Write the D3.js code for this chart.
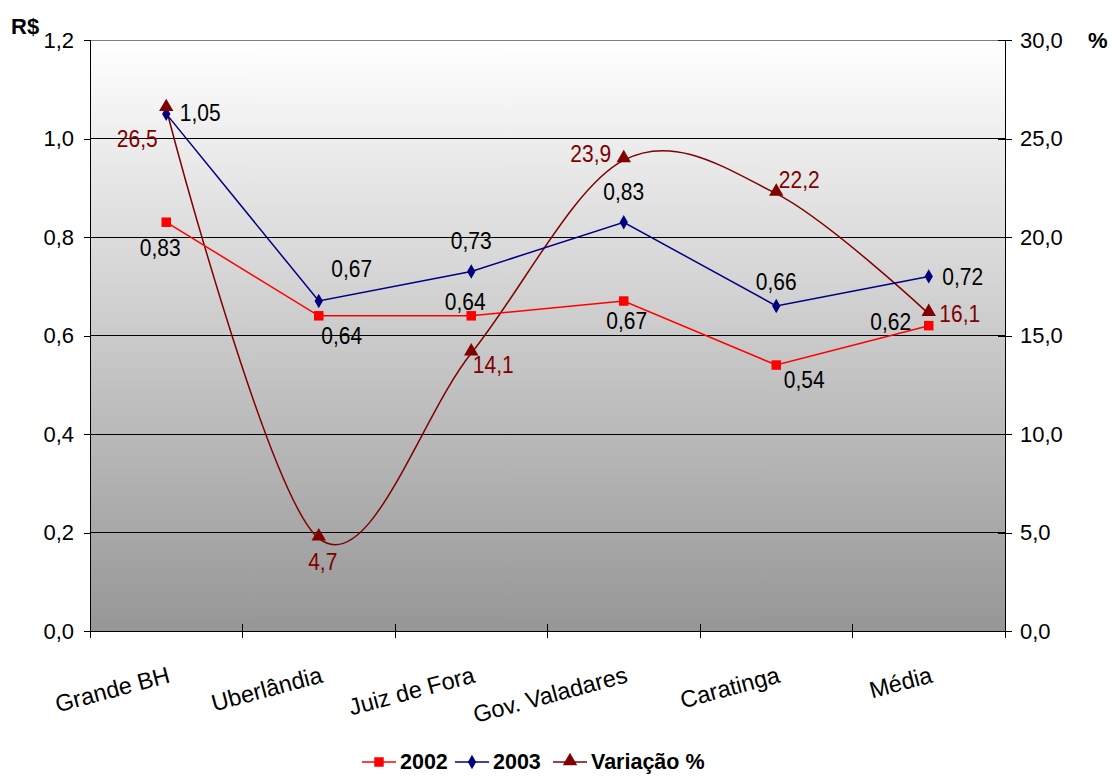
<!DOCTYPE html>
<html><head><meta charset="utf-8">
<script src="https://cdn.jsdelivr.net/npm/d3@7"></script>
<style>
body{margin:0;background:#fff;}
text{font-family:Arial,"Liberation Sans",sans-serif;}
</style></head>
<body><svg id="c" width="1112" height="776"></svg>
<script>
const categories = ["Grande BH","Uberlândia","Juiz de Fora","Gov. Valadares","Caratinga","Média"];
const values2002 = [0.83,0.64,0.64,0.67,0.54,0.62];
const values2003 = [1.05,0.67,0.73,0.83,0.66,0.72];
const variacao = [26.5,4.7,14.1,23.9,22.2,16.1];
const leftTicks = [0,0.2,0.4,0.6,0.8,1.0,1.2];
const rightTicks = [0,5,10,15,20,25,30];

// label placement (layout only)
const off2002 = [[-6,26],[23,20],[-6,-14],[3,20],[28,15],[-38,-4]];
const off2003 = [[34,-1],[33,-32],[0,-30],[0,-30],[0,-24],[34,1]];
const offVar = [[-29,30],[4,24],[22,12],[-33,-6],[23,-14],[31,0]];

const svg = d3.select("#c");
const L=90,R=1005,T=40,B=631;
const FS=21;
const x = d3.scalePoint().domain(categories).range([L,R]).padding(0.5);
const xb = d3.scaleBand().domain(categories).range([L,R]);
const yL = d3.scaleLinear().domain([0,1.2]).range([B,T]);
const yR = d3.scaleLinear().domain([0,30]).range([B,T]);
const fmt = (d,n)=>d.toFixed(n).replace(".",",");

const defs = svg.append("defs");
const g = defs.append("linearGradient").attr("id","bg").attr("x1",0).attr("y1",0).attr("x2",0).attr("y2",1);
g.append("stop").attr("offset","0%").attr("stop-color","#ffffff");
g.append("stop").attr("offset","100%").attr("stop-color","#969696");
svg.append("rect").attr("x",L).attr("y",T).attr("width",R-L).attr("height",B-T).attr("fill","url(#bg)");

// gridlines
svg.append("g").selectAll("line").data(leftTicks.filter(d=>d>0)).join("line")
  .attr("x1",L).attr("x2",R).attr("y1",d=>yL(d)).attr("y2",d=>yL(d))
  .attr("stroke",d=>d===1.2?"#808080":"#000").attr("stroke-width",1).attr("shape-rendering","crispEdges");

// left axis
const la = svg.append("g").attr("transform",`translate(${L},0)`)
  .call(d3.axisLeft(yL).tickValues(leftTicks).tickFormat(d=>fmt(d,1)).tickSize(6).tickPadding(10));
// right axis
const ra = svg.append("g").attr("transform",`translate(${R},0)`)
  .call(d3.axisRight(yR).tickValues(rightTicks).tickFormat(d=>fmt(d,1)).tickSize(7).tickPadding(8));
// bottom axis
const ba = svg.append("g").attr("transform",`translate(0,${B})`)
  .call(d3.axisBottom(xb).tickSize(0).tickFormat(""));
[la,ra,ba].forEach(a=>{
  a.select(".domain").attr("stroke","#000").attr("shape-rendering","crispEdges");
  a.selectAll(".tick line").attr("stroke","#000").attr("shape-rendering","crispEdges");
  a.selectAll(".tick text").attr("font-size",22).attr("fill","#000").attr("font-family","Arial, 'Liberation Sans', sans-serif");
});
la.select(".domain").attr("d",`M0,${T}V${B}`);
ra.select(".domain").attr("d",`M0,${T}V${B}`);
la.selectAll(".tick line").attr("x1",-6).attr("x2",0);
ra.selectAll(".tick line").attr("x1",-7).attr("x2",7);
// category boundary ticks
const bounds = categories.map(c=>xb(c)).concat([xb(categories[5])+xb.bandwidth()]);
svg.append("g").selectAll("line").data(bounds).join("line")
  .attr("x1",d=>d).attr("x2",d=>d).attr("y1",B-7).attr("y2",B+7)
  .attr("stroke","#000").attr("shape-rendering","crispEdges");
// category labels
svg.append("g").selectAll("text").data(categories).join("text")
  .attr("transform",d=>`translate(${x(d)+5},${682}) rotate(-15)`)
  .attr("text-anchor","end").attr("font-size",23.5).attr("fill","#000").text(d=>d);

// axis titles
svg.append("text").attr("x",11).attr("y",34).attr("font-size",22).attr("font-weight","bold").text("R$");
svg.append("text").attr("x",1088).attr("y",48).attr("font-size",22).attr("font-weight","bold").text("%");

// lines
const line2002 = d3.line().x((d,i)=>x(categories[i])).y(d=>yL(d));
const lineVar = d3.line().x((d,i)=>x(categories[i])).y(d=>yR(d)).curve(d3.curveCardinal.tension(0));
svg.append("path").datum(variacao).attr("d",lineVar).attr("fill","none").attr("stroke","#800000").attr("stroke-width",1.5);
svg.append("path").datum(values2002).attr("d",line2002).attr("fill","none").attr("stroke","#ff0000").attr("stroke-width",1.5);
svg.append("path").datum(values2003).attr("d",line2002).attr("fill","none").attr("stroke","#000080").attr("stroke-width",1.5);

// markers
const sq = d3.symbol().type(d3.symbolSquare).size(90);
const dm = d3.symbol().type(d3.symbolDiamond).size(60);
const tr = d3.symbol().type(d3.symbolTriangle).size(90);
svg.append("g").selectAll("path").data(values2002).join("path")
  .attr("d",sq).attr("transform",(d,i)=>`translate(${x(categories[i])},${yL(d)})`).attr("fill","#ff0000");
svg.append("g").selectAll("path").data(values2003).join("path")
  .attr("d",dm).attr("transform",(d,i)=>`translate(${x(categories[i])},${yL(d)})`).attr("fill","#000080");
svg.append("g").selectAll("path").data(variacao).join("path")
  .attr("d",tr).attr("transform",(d,i)=>`translate(${x(categories[i])},${yR(d)-2})`).attr("fill","#800000");

// data labels (slightly taller glyphs, as in the reference)
function labels(data, scale, offs, color, dec){
  svg.append("g").selectAll("text").data(data).join("text")
    .attr("transform",(d,i)=>`translate(${x(categories[i])+offs[i][0]},${scale(d)+offs[i][1]}) scale(1,1.12)`)
    .attr("text-anchor","middle").attr("dominant-baseline","central")
    .attr("font-size",FS).attr("fill",color).text(d=>fmt(d,dec));
}
labels(values2002,yL,off2002,"#000",2);
labels(values2003,yL,off2003,"#000",2);
labels(variacao,yR,offVar,"#800000",1);

// legend
const leg = svg.append("g").attr("transform","translate(0,762)");
const items = [
  {name:"2002",color:"#ff0000",sym:sq,x:362},
  {name:"2003",color:"#000080",sym:dm,x:455},
  {name:"Variação %",color:"#800000",sym:tr,x:553}
];
items.forEach(it=>{
  leg.append("line").attr("x1",it.x).attr("x2",it.x+34).attr("y1",0).attr("y2",0).attr("stroke",it.color).attr("stroke-width",1.5);
  leg.append("path").attr("d",it.sym).attr("transform",`translate(${it.x+17},${it.sym===tr?-1:0})`).attr("fill",it.color);
  leg.append("text").attr("x",it.x+38).attr("y",0).attr("dominant-baseline","central")
    .attr("font-size",21.5).attr("font-weight","bold").text(it.name);
});
</script></body></html>
